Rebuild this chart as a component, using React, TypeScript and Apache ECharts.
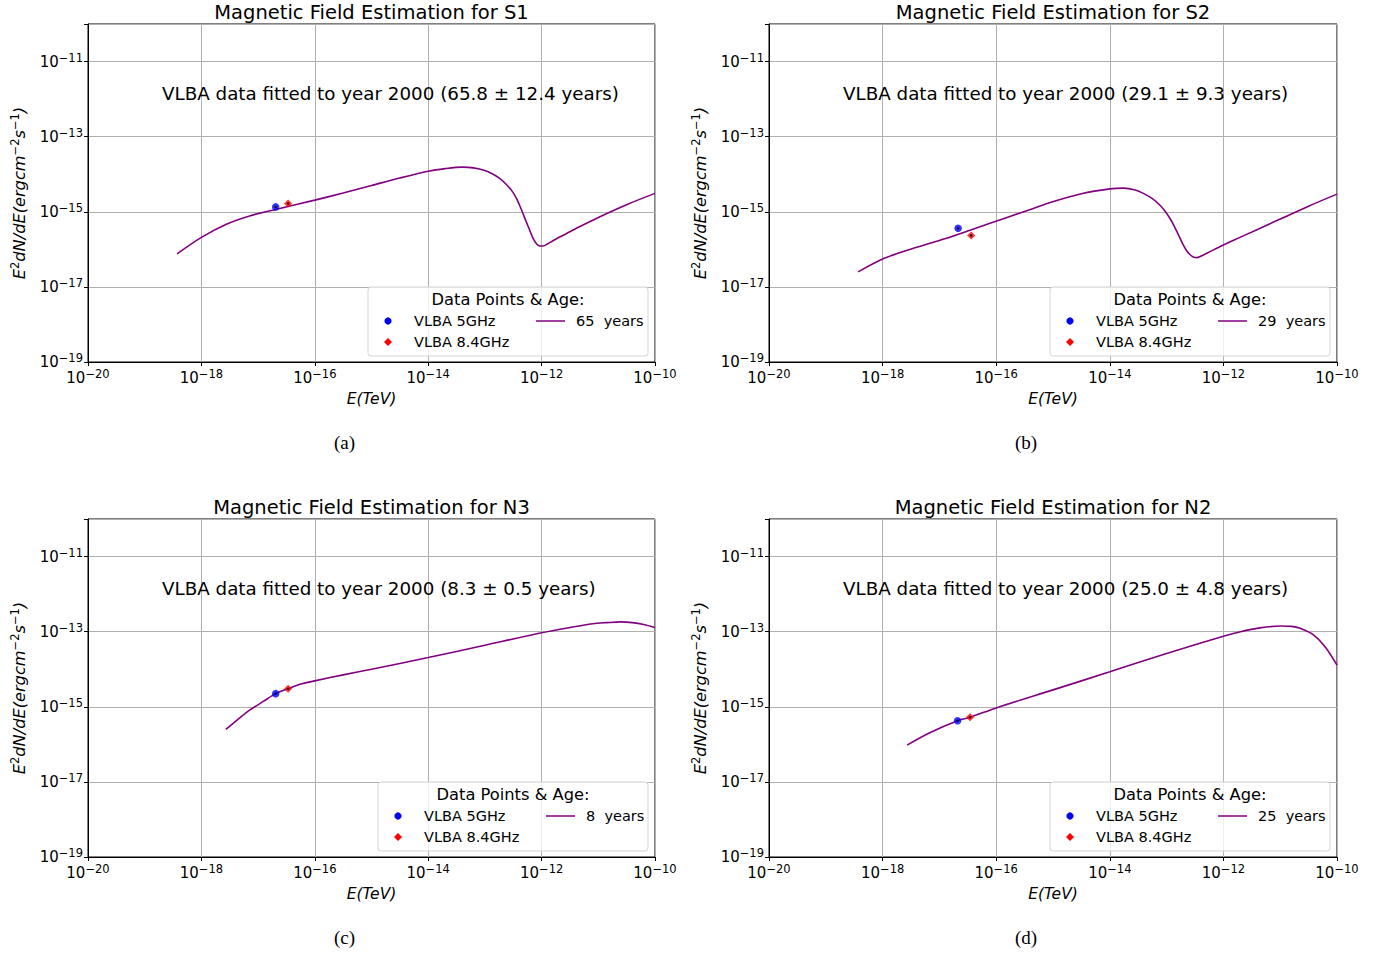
import React, { useEffect, useRef } from "react";
import * as echarts from "echarts";

// ---- axis ranges / ticks (exponents of 10) ----
const xExpMin = -20;
const xExpMax = -10;
const yExpMin = -19;
const yExpMax = -10;
const tickStep = 2;

// ---- panel texts ----
const sourceNames = ["S1", "S2", "N3", "N2"];
const fittedAges = ["65.8 ± 12.4", "29.1 ± 9.3", "8.3 ± 0.5", "25.0 ± 4.8"];
const legendAges = [65, 29, 8, 25];
const captions = ["(a)", "(b)", "(c)", "(d)"];

// ---- model curves: log10(E [TeV]) and log10(E^2 dN/dE) ----
const s1LogE = [-18.43, -18.0, -17.56, -17.15, -16.69, -16.0, -15.5, -15.0, -14.5, -14.0, -13.7, -13.4, -13.2, -13.03, -12.88, -12.74, -12.63, -12.53, -12.45, -12.39, -12.33, -12.27, -12.21, -12.15, -12.09, -12.03, -11.97, -11.9, -11.8, -11.6, -11.4, -11.0, -10.5, -10.0];
const s1LogF = [-16.12, -15.68, -15.33, -15.11, -14.94, -14.69, -14.5, -14.3, -14.1, -13.92, -13.85, -13.81, -13.83, -13.89, -13.98, -14.11, -14.26, -14.43, -14.62, -14.82, -15.04, -15.27, -15.49, -15.71, -15.85, -15.91, -15.91, -15.86, -15.77, -15.61, -15.45, -15.15, -14.81, -14.51];

const s2LogE = [-18.43, -17.97, -17.47, -16.89, -16.46, -15.81, -15.4, -15.02, -14.5, -14.0, -13.76, -13.55, -13.41, -13.25, -13.12, -13.03, -12.94, -12.86, -12.79, -12.72, -12.65, -12.58, -12.52, -12.46, -12.41, -12.3, -12.1, -11.88, -11.4, -10.98, -10.5, -10.0];
const s2LogF = [-16.6, -16.24, -15.98, -15.71, -15.49, -15.15, -14.94, -14.74, -14.52, -14.39, -14.37, -14.42, -14.51, -14.65, -14.82, -14.98, -15.18, -15.4, -15.62, -15.84, -16.03, -16.15, -16.21, -16.22, -16.19, -16.11, -15.96, -15.8, -15.47, -15.18, -14.85, -14.53];

const n3LogE = [-17.57, -17.35, -17.15, -16.9, -16.69, -16.47, -16.26, -16.0, -15.5, -15.0, -14.0, -13.0, -12.0, -11.5, -11.1, -10.85, -10.6, -10.4, -10.2, -10.0];
const n3LogF = [-15.6, -15.33, -15.09, -14.85, -14.65, -14.52, -14.4, -14.31, -14.15, -14.0, -13.69, -13.36, -13.03, -12.89, -12.79, -12.76, -12.74, -12.76, -12.81, -12.89];

const n2LogE = [-17.57, -17.17, -16.68, -16.46, -16.0, -15.0, -14.0, -13.0, -12.0, -11.7, -11.36, -11.0, -10.8, -10.65, -10.42, -10.21, -10.0];
const n2LogF = [-16.02, -15.69, -15.37, -15.28, -15.03, -14.55, -14.07, -13.58, -13.12, -13.0, -12.9, -12.85, -12.86, -12.91, -13.08, -13.4, -13.89];

// ---- VLBA data points [log10 E, log10 flux] ----
const vlba5GHz = [
  [-16.69, -14.87],
  [-16.67, -15.44],
  [-16.69, -14.65],
  [-16.68, -15.37],
];
const vlba84GHz = [
  [-16.47, -14.78],
  [-16.44, -15.63],
  [-16.47, -14.52],
  [-16.46, -15.28],
];

const curveLogE = [s1LogE, s2LogE, n3LogE, n2LogE];
const curveLogF = [s1LogF, s2LogF, n3LogF, n2LogF];

// ---- layout ----
const grids = [
  { left: 88, top: 24, width: 567, height: 338 },
  { left: 769, top: 24, width: 568, height: 338 },
  { left: 88, top: 519, width: 567, height: 338 },
  { left: 769, top: 519, width: 568, height: 338 },
];
const legendWidths = [280, 280, 270, 280];

const FONT = "DejaVu Sans";
const MINUS = "\u2212";
const PURPLE = "#800080";

const tickRich = {
  b: { fontSize: 15, fontFamily: FONT, color: "#000", lineHeight: 20 },
  s: { fontSize: 11.5, fontFamily: FONT, color: "#000", verticalAlign: "top", lineHeight: 13 },
};

const powLabel = (v: number) => `{b|10}{s|${v < 0 ? MINUS : ""}${Math.abs(v)}}`;

function txt(x: number, y: number, text: string, size: number, align: string, extra: any = {}) {
  return {
    type: "text",
    x,
    y,
    z: 100,
    silent: true,
    style: {
      text,
      fontSize: size,
      fontFamily: FONT,
      fill: "#000",
      align,
      verticalAlign: "middle",
      textAlign: align,
      textVerticalAlign: "middle",
      ...extra,
    },
  };
}

function legendGroup(i: number) {
  const g = grids[i];
  const w = legendWidths[i];
  const h = 69;
  const left = g.left + g.width - 7 - w;
  const top = g.top + g.height - 6 - h;
  return {
    type: "group",
    x: left,
    y: top,
    z: 100,
    children: [
      {
        type: "rect",
        z: 100,
        shape: { x: 0, y: 0, width: w, height: h, r: 3 },
        style: { fill: "rgba(255,255,255,0.8)", stroke: "#d5d5d5", lineWidth: 1 },
      },
      txt(w / 2, 12, "Data Points & Age:", 16.3, "center"),
      { type: "circle", z: 101, shape: { cx: 20, cy: 34, r: 3.6 }, style: { fill: "#0000ff" } },
      txt(46, 34, "VLBA 5GHz", 14.5, "left"),
      {
        type: "polygon",
        z: 101,
        shape: { points: [[20, 51], [24, 55], [20, 59], [16, 55]] },
        style: { fill: "#ff0000" },
      },
      txt(46, 55, "VLBA 8.4GHz", 14.5, "left"),
      { type: "line", z: 101, shape: { x1: 168, y1: 34, x2: 197, y2: 34 }, style: { stroke: PURPLE, lineWidth: 1.5 } },
      txt(208, 34, `${legendAges[i]}  years`, 14.5, "left"),
    ],
  };
}

function buildOption() {
  const xAxis: any[] = [];
  const yAxis: any[] = [];
  const series: any[] = [];
  const elements: any[] = [];

  grids.forEach((g, i) => {
    xAxis.push({
      type: "value",
      gridIndex: i,
      min: xExpMin,
      max: xExpMax,
      interval: tickStep,
      axisLine: { show: true, onZero: false, lineStyle: { color: "#000", width: 1 } },
      axisTick: { show: true, length: 4, lineStyle: { color: "#000", width: 1 } },
      splitLine: { show: true, lineStyle: { color: "#b0b0b0", width: 1 } },
      axisLabel: { formatter: powLabel, rich: tickRich, margin: 6, showMaxLabel: true, showMinLabel: true },
      name: "E(TeV)",
      nameLocation: "middle",
      nameGap: 29,
      nameTextStyle: { fontFamily: FONT, fontSize: 15.5, fontStyle: "italic", color: "#000" },
    });
    yAxis.push({
      type: "value",
      gridIndex: i,
      min: yExpMin,
      max: yExpMax,
      interval: tickStep,
      axisLine: { show: true, onZero: false, lineStyle: { color: "#000", width: 1 } },
      axisTick: { show: true, length: 4, lineStyle: { color: "#000", width: 1 } },
      splitLine: { show: true, lineStyle: { color: "#b0b0b0", width: 1 } },
      axisLabel: {
        formatter: (v: number) => (v >= yExpMax ? "" : powLabel(v)),
        rich: tickRich,
        margin: 5,
      },
      name: `{i|E}{u|2}{i|dN/dE(ergcm}{u|${MINUS}2}{i|s}{u|${MINUS}1}{i|)}`,
      nameLocation: "middle",
      nameGap: 58,
      nameTextStyle: {
        rich: {
          i: { fontFamily: FONT, fontSize: 16.2, fontStyle: "italic", color: "#000", lineHeight: 21 },
          u: { fontFamily: FONT, fontSize: 11.5, color: "#000", verticalAlign: "top", lineHeight: 13 },
        },
      },
    });

    const data = curveLogE[i].map((e, k) => [e, curveLogF[i][k]]);
    series.push({
      type: "line",
      name: `${legendAges[i]}  years`,
      xAxisIndex: i,
      yAxisIndex: i,
      data,
      symbol: "none",
      showSymbol: false,
      smooth: 0.3,
      silent: true,
      lineStyle: { color: PURPLE, width: 1.6 },
      z: 3,
    });
    series.push({
      type: "scatter",
      name: "VLBA 5GHz",
      xAxisIndex: i,
      yAxisIndex: i,
      data: [vlba5GHz[i]],
      symbol: "circle",
      symbolSize: 7.5,
      silent: true,
      itemStyle: { color: "#0000ff" },
      z: 4,
    });
    series.push({
      type: "scatter",
      name: "VLBA 8.4GHz",
      xAxisIndex: i,
      yAxisIndex: i,
      data: [vlba84GHz[i]],
      symbol: "diamond",
      symbolSize: 8,
      silent: true,
      itemStyle: { color: "#ff0000" },
      z: 4,
    });
    series.push({
      type: "scatter",
      name: "error",
      xAxisIndex: i,
      yAxisIndex: i,
      data: [vlba5GHz[i], vlba84GHz[i]],
      symbol: "circle",
      symbolSize: 2.5,
      silent: true,
      itemStyle: { color: "#000" },
      z: 5,
    });

    const cx = g.left + g.width / 2;
    elements.push(txt(cx, g.top - 12, `Magnetic Field Estimation for ${sourceNames[i]}`, 19.5, "center"));
    elements.push(
      txt(g.left + 74, g.top + 69, `VLBA data fitted to year 2000 (${fittedAges[i]} years)`, 18.3, "left")
    );
    elements.push(
      txt(cx - 27, g.top + g.height + 80, captions[i], 19, "center", { fontFamily: "Liberation Serif" })
    );
    elements.push(legendGroup(i));
  });

  return {
    animation: false,
    backgroundColor: "#fff",
    grid: grids.map((g) => ({ ...g, show: true, borderColor: "#000", borderWidth: 1, backgroundColor: "transparent" })),
    xAxis,
    yAxis,
    series,
    graphic: { elements },
  };
}

export default function App() {
  const ref = useRef<HTMLDivElement>(null);
  useEffect(() => {
    if (!ref.current) return;
    const chart = echarts.init(ref.current, undefined, { renderer: "svg" });
    chart.setOption(buildOption() as any);
    return () => chart.dispose();
  }, []);
  return (
    <div
      ref={ref}
      style={{ position: "absolute", left: 0, top: 0, width: 1385, height: 956, background: "#fff" }}
    />
  );
}
